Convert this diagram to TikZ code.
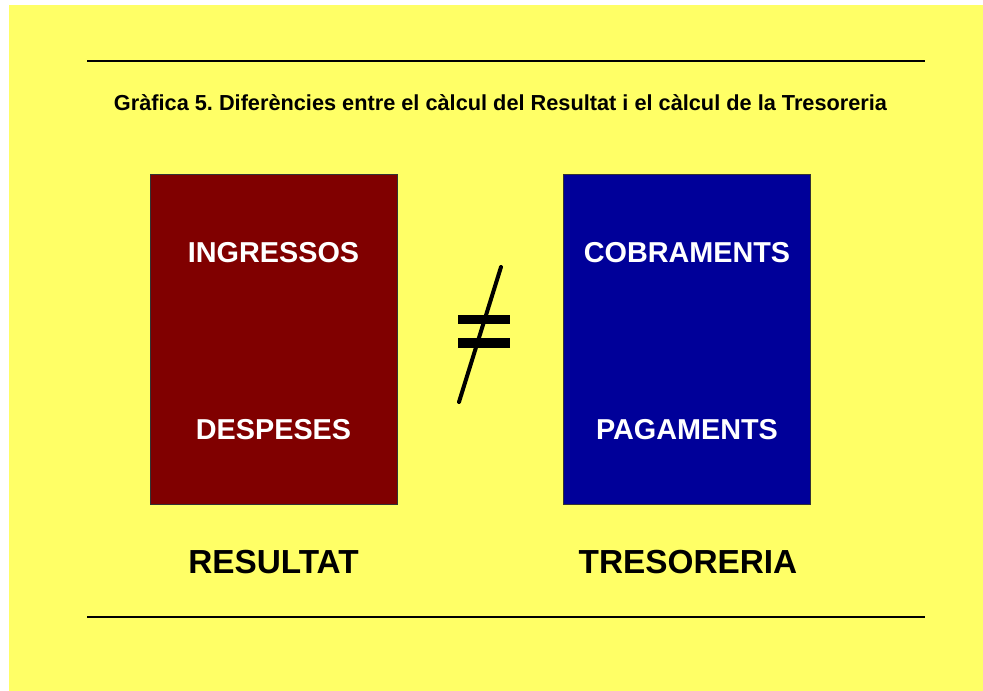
\documentclass[tikz,border=0pt]{standalone}
\usepackage{fontspec}
\setmainfont{Liberation Sans}
\usetikzlibrary{positioning}
\definecolor{fonsgroc}{HTML}{FFFF66}
\definecolor{granat}{HTML}{800000}
\definecolor{blaufosc}{HTML}{000099}
\frenchspacing
\begin{document}
\begin{tikzpicture}[x=0.75pt,y=-0.75pt,
    caixa/.style={draw=black!80,line width=0.9pt,minimum width=247*0.75pt,minimum height=330*0.75pt,inner sep=0,anchor=north west},
    concepte/.style={text=white,font=\fontsize{21.6pt}{21.6pt}\selectfont\bfseries,anchor=base},
    peu/.style={text=black,font=\fontsize{25pt}{25pt}\selectfont\bfseries,anchor=base},
    regla/.style={line width=2.2pt}]
    \pgfmathsetmacro{\boxtop}{174}
    \pgfmathsetmacro{\leftx}{150}
    \pgfmathsetmacro{\rightx}{563}
    \providecommand{\titolfontsize}{\fontsize{16.3pt}{16.3pt}\selectfont}
    \useasboundingbox (0,0) rectangle (983,691);
    \fill[white] (0,0) rectangle (983,691);
    \fill[fonsgroc] (9,5) rectangle (983,691);
    % filets de dalt i de baix
    \coordinate (d1) at (87,61);
    \coordinate (d2) at (925,61);
    \coordinate (b1) at (87,617);
    \coordinate (b2) at (925,617);
    \draw[regla] (d1) -- (d2);
    \draw[regla] (b1) -- (b2);
    \node[anchor=base,inner sep=0] (titol) at (500.5,111) {\titolfontsize\bfseries Gràfica 5. Diferències entre el càlcul del Resultat i el càlcul de la Tresoreria};
    % les dues caixes
    \node[caixa,fill=granat] (resultat) at (\leftx,\boxtop) {};
    \node[caixa,fill=blaufosc] (tresoreria) at (\rightx,\boxtop) {};
    \node[concepte] (ingressos) at (273.5,263) {INGRESSOS};
    \node[concepte] (despeses) at (273.5,440) {DESPESES};
    \node[concepte] (cobraments) at (687,263) {COBRAMENTS};
    \node[concepte] (pagaments) at (687,440) {PAGAMENTS};
    \node[peu] (nomres) at (273.5,574) {RESULTAT};
    \node[peu] (nomtres) at (688,574) {TRESORERIA};
    % signe de diferent
    \fill (458,315) rectangle (510,324);
    \fill (458,338) rectangle (510,348);
    \draw[line width=3pt,line cap=round] (501,267) -- (459,402);
\end{tikzpicture}
\end{document}
